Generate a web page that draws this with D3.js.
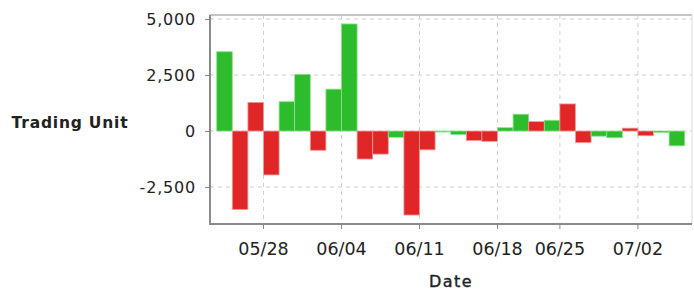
<!DOCTYPE html>
<html>
<head>
<meta charset="utf-8">
<script src="https://cdn.jsdelivr.net/npm/d3@7"></script>
<style>
  html, body { margin: 0; padding: 0; background: #fff; }
  svg { display: block; }
  text { font-family: "DejaVu Sans", sans-serif; fill: #222; }
</style>
</head>
<body>
<svg id="chart" width="694" height="293"></svg>
<script>
// ---- data ----
const dates = [
  "2023-05-24","2023-05-25","2023-05-26",
  "2023-05-29","2023-05-30","2023-05-31","2023-06-01","2023-06-02",
  "2023-06-05","2023-06-06","2023-06-07","2023-06-08","2023-06-09",
  "2023-06-12","2023-06-13","2023-06-14","2023-06-15","2023-06-16",
  "2023-06-19","2023-06-20","2023-06-21","2023-06-23",
  "2023-06-26","2023-06-27","2023-06-28","2023-06-29","2023-06-30",
  "2023-07-03","2023-07-04","2023-07-05"
];
const values = [
  3540, -3500, 1280, -1960, 1310,
  2530, -860, 1870, 4780, -1250,
  -1030, -280, -3750, -840, -40,
  -150, -420, -460, 150, 750,
  420, 480, 1210, -520, -230,
  -300, 130, -210, -60, -660
];
const direction = [
  "up","down","down","down","up",
  "up","down","up","up","down",
  "down","up","down","down","up",
  "up","down","down","up","up",
  "down","up","down","down","up",
  "up","down","down","up","up"
];
const yTicks = [-2500, 0, 2500, 5000];
const xTickDates = ["2023-05-28","2023-06-04","2023-06-11","2023-06-18","2023-06-25","2023-07-02"];
const xTickLabels = ["05/28","06/04","06/11","06/18","06/25","07/02"];
const yTitle = "Trading Unit";
const xTitle = "Date";

// ---- layout ----
const svg = d3.select("#chart");
const plot = { left: 210, right: 692, top: 15, bottom: 224 };
const pad = 6.7;

const x = d3.scaleBand().domain(dates)
  .range([plot.left + pad, plot.right - pad - 0.6]).paddingInner(0).paddingOuter(0);
const y = d3.scaleLinear().domain([-4150, 5180]).range([plot.bottom, plot.top]);

const colorFill = { up: "#2cbc2c", down: "#e02626" };
const colorEdge = { up: "#8fe08f", down: "#f29a9a" };

// tick positions: left edge of first trading day after each tick date
const tickPos = xTickDates.map(td => {
  const d = dates.find(dd => dd > td);
  return x(d);
});

const fmt = d3.formatLocale({ decimal: ".", thousands: ",", grouping: [3], currency: ["", ""], minus: "-" }).format(",");

const g = svg.append("g");

// gridlines
g.selectAll(".hgrid").data(yTicks).join("line")
  .attr("x1", plot.left).attr("x2", plot.right)
  .attr("y1", d => y(d)).attr("y2", d => y(d))
  .attr("stroke", "#cfcfcf").attr("stroke-width", 1).attr("stroke-dasharray", "4,4");
g.selectAll(".vgrid").data(tickPos).join("line")
  .attr("x1", d => d).attr("x2", d => d)
  .attr("y1", plot.top).attr("y2", plot.bottom)
  .attr("stroke", "#cfcfcf").attr("stroke-width", 1).attr("stroke-dasharray", "4,4");

// top & right border
svg.append("line").attr("x1", plot.left).attr("x2", plot.right)
  .attr("y1", plot.top).attr("y2", plot.top).attr("stroke", "#c4c4c4").attr("stroke-width", 2);
svg.append("line").attr("x1", plot.right).attr("x2", plot.right)
  .attr("y1", plot.top).attr("y2", plot.bottom).attr("stroke", "#dddddd").attr("stroke-width", 1);

// bars
svg.append("g").selectAll("rect").data(values).join("rect")
  .attr("x", (d, i) => x(dates[i]))
  .attr("width", x.bandwidth())
  .attr("y", d => y(Math.max(0, d)))
  .attr("height", d => Math.max(1, Math.abs(y(d) - y(0))))
  .attr("fill", (d, i) => colorFill[direction[i]])
  .attr("stroke", (d, i) => colorEdge[direction[i]])
  .attr("stroke-width", 0.8);

// axes
const yAxis = svg.append("g").attr("transform", `translate(${plot.left},0)`)
  .call(d3.axisLeft(y).tickValues(yTicks).tickFormat(fmt).tickSize(5).tickPadding(9));
const xAxis = svg.append("g").attr("transform", `translate(0,${plot.bottom})`)
  .call(d3.axisBottom(x).tickValues([]).tickSize(0));
xAxis.selectAll(".xt").data(tickPos).join("line")
  .attr("x1", d => d).attr("x2", d => d).attr("y1", 0).attr("y2", 5)
  .attr("stroke", "#888");
xAxis.selectAll(".xl").data(xTickLabels).join("text")
  .attr("x", (d, i) => tickPos[i]).attr("y", 31)
  .attr("text-anchor", "middle").attr("font-size", 17.5).text(d => d);

[yAxis, xAxis].forEach(a => {
  a.select(".domain").attr("stroke", "#8a8a8a").attr("stroke-width", 2);
  a.selectAll(".tick line").attr("stroke", "#888");
});
yAxis.select(".domain").attr("d", `M0,${plot.top}V${plot.bottom + 1}`);
xAxis.select(".domain").attr("d", `M${plot.left - 1},0H${plot.right}`);
yAxis.selectAll(".tick text").attr("font-size", 16).attr("fill", "#222")
  .attr("font-family", "DejaVu Sans, sans-serif").attr("letter-spacing", 0.8);

// titles
svg.append("text").attr("x", 70).attr("y", 128).attr("text-anchor", "middle")
  .attr("font-size", 15.5).attr("font-weight", "bold").attr("letter-spacing", 0.8).text(yTitle);
svg.append("text").attr("x", 451).attr("y", 287).attr("text-anchor", "middle")
  .attr("font-size", 16).attr("letter-spacing", 1.5)
  .attr("stroke", "#222").attr("stroke-width", 0.4).text(xTitle);
</script>
</body>
</html>
